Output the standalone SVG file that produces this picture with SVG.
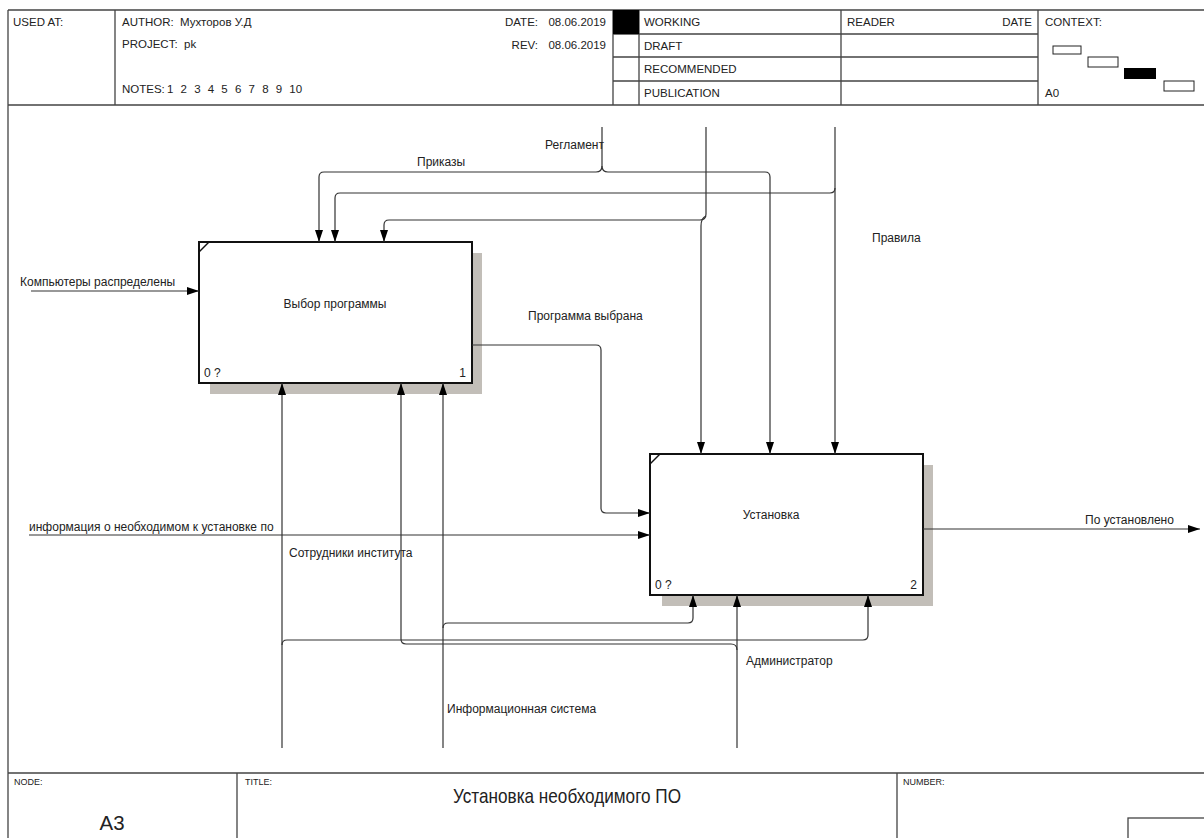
<svg xmlns="http://www.w3.org/2000/svg" width="1204" height="838" viewBox="0 0 1204 838">
<style>
text{font-family:"Liberation Sans",Arial,sans-serif;fill:#222}
.h{font-size:11.5px}
.l{font-size:12px}
.frame{stroke:#444;stroke-width:1.3;fill:none}
.ln{fill:none;stroke:#333;stroke-width:1.2}
.box{fill:#fff;stroke:#111;stroke-width:2}
.sh{fill:#c2beb8}
</style>
<defs>
<marker id="ah" markerUnits="userSpaceOnUse" viewBox="0 0 12 8" refX="12" refY="4" markerWidth="12" markerHeight="8" orient="auto">
<path d="M0,0 L12,4 L0,8 Z" fill="#000"/>
</marker>
</defs>
<rect width="1204" height="838" fill="#fff"/>
<g id="frame">
<path class="frame" d="M8,10 V838 M8,10 H1204 M8,105 H1204 M8,773 H1204 M115,10 V105 M613,10 V105 M639,10 V105 M841,10 V105 M1038,10 V105 M613,34 H1038 M613,57 H1038 M613,81 H1038 M237,773 V838 M897,773 V838"/>
<rect x="613" y="10" width="26" height="24" fill="#000"/>
<rect x="1128" y="818" width="84" height="30" class="frame"/>
<text class="h" x="13" y="26">USED AT:</text>
<text class="h" x="122" y="26">AUTHOR:</text>
<text class="h" x="180" y="26">Мухторов У.Д</text>
<text class="h" x="122" y="48">PROJECT:</text>
<text class="h" x="184" y="48">pk</text>
<text class="h" x="122" y="93">NOTES:</text>
<text class="h" x="167" y="93" word-spacing="4">1 2 3 4 5 6 7 8 9 10</text>
<text class="h" x="538" y="26" text-anchor="end">DATE:</text>
<text class="h" x="606" y="26" text-anchor="end">08.06.2019</text>
<text class="h" x="538" y="49" text-anchor="end">REV:</text>
<text class="h" x="606" y="49" text-anchor="end">08.06.2019</text>
<text class="h" x="644" y="26">WORKING</text>
<text class="h" x="644" y="50">DRAFT</text>
<text class="h" x="644" y="73">RECOMMENDED</text>
<text class="h" x="644" y="97">PUBLICATION</text>
<text class="h" x="847" y="26">READER</text>
<text class="h" x="1032" y="26" text-anchor="end">DATE</text>
<text class="h" x="1045" y="26">CONTEXT:</text>
<text class="h" x="1045" y="97">A0</text>
<rect x="1053" y="46" width="28" height="8" fill="#fff" stroke="#222"/>
<rect x="1088" y="57" width="30" height="10" fill="#fff" stroke="#222"/>
<rect x="1124" y="68" width="32" height="11" fill="#000"/>
<rect x="1164" y="81" width="30" height="10" fill="#fff" stroke="#222"/>
<text x="14" y="785" font-size="9">NODE:</text>
<text x="245" y="785" font-size="9">TITLE:</text>
<text x="903" y="785" font-size="9">NUMBER:</text>
<text x="112" y="830" font-size="20" text-anchor="middle" textLength="25" lengthAdjust="spacingAndGlyphs">A3</text>
<text x="567" y="803" font-size="21" text-anchor="middle" textLength="228" lengthAdjust="spacingAndGlyphs">Установка необходимого ПО</text>
</g>
<g id="node1">
<rect class="sh" x="210" y="253" width="272" height="141"/>
<rect class="box" x="199" y="242" width="273" height="141"/>
<path d="M199,252 L209,242" stroke="#111" stroke-width="1.5"/>
<text class="l" x="335" y="308" text-anchor="middle">Выбор программы</text>
<text class="l" x="204" y="377">0 ?</text>
<text class="l" x="466" y="377" text-anchor="end">1</text>
</g>
<g id="node2">
<rect class="sh" x="662" y="465" width="271" height="141"/>
<rect class="box" x="650" y="454" width="273" height="141"/>
<path d="M650,464 L660,454" stroke="#111" stroke-width="1.5"/>
<text class="l" x="771" y="519" text-anchor="middle">Установка</text>
<text class="l" x="655" y="589">0 ?</text>
<text class="l" x="917" y="589" text-anchor="end">2</text>
</g>
<g id="connectors">
<path class="ln" d="M31,291 H199" marker-end="url(#ah)"/>
<path class="ln" d="M29,535 H650" marker-end="url(#ah)"/>
<path class="ln" d="M472,345 H596 Q601,345 601,350 V508 Q601,513 606,513 H650" marker-end="url(#ah)"/>
<path class="ln" d="M923,529 H1200" marker-end="url(#ah)"/>
<path class="ln" d="M602,127 V166 Q602,172 596,172 H324 Q319,172 319,177 V242" marker-end="url(#ah)"/>
<path class="ln" d="M602,166 Q602,172 608,172 H765 Q770,172 770,177 V454" marker-end="url(#ah)"/>
<path class="ln" d="M835,127 V454" marker-end="url(#ah)"/>
<path class="ln" d="M835,188 Q835,193 830,193 H340 Q335,193 335,198 V242" marker-end="url(#ah)"/>
<path class="ln" d="M706,127 V214 Q706,220 700,220 H389 Q384,220 384,225 V242" marker-end="url(#ah)"/>
<path class="ln" d="M706,216 Q701,218 701,226 V454" marker-end="url(#ah)"/>
<path class="ln" d="M282,748 V383" marker-end="url(#ah)"/>
<path class="ln" d="M282,645 Q282,640 287,640 H863 Q868,640 868,635 V595" marker-end="url(#ah)"/>
<path class="ln" d="M443,748 V383" marker-end="url(#ah)"/>
<path class="ln" d="M443,628 Q443,623 448,623 H688 Q693,623 693,618 V595" marker-end="url(#ah)"/>
<path class="ln" d="M737,748 V595" marker-end="url(#ah)"/>
<path class="ln" d="M737,650 Q737,644 731,644 H406 Q401,644 401,639 V383" marker-end="url(#ah)"/>
<text class="l" x="20" y="286">Компьютеры распределены</text>
<text class="l" x="29" y="531">информация о необходимом к установке по</text>
<text class="l" x="528" y="320">Программа выбрана</text>
<text class="l" x="1085" y="524">По установлено</text>
<text class="l" x="545" y="149">Регламент</text>
<text class="l" x="417" y="166">Приказы</text>
<text class="l" x="872" y="242">Правила</text>
<text class="l" x="289" y="557">Сотрудники института</text>
<text class="l" x="447" y="713">Информационная система</text>
<text class="l" x="746" y="665">Администратор</text>
</g>
</svg>
